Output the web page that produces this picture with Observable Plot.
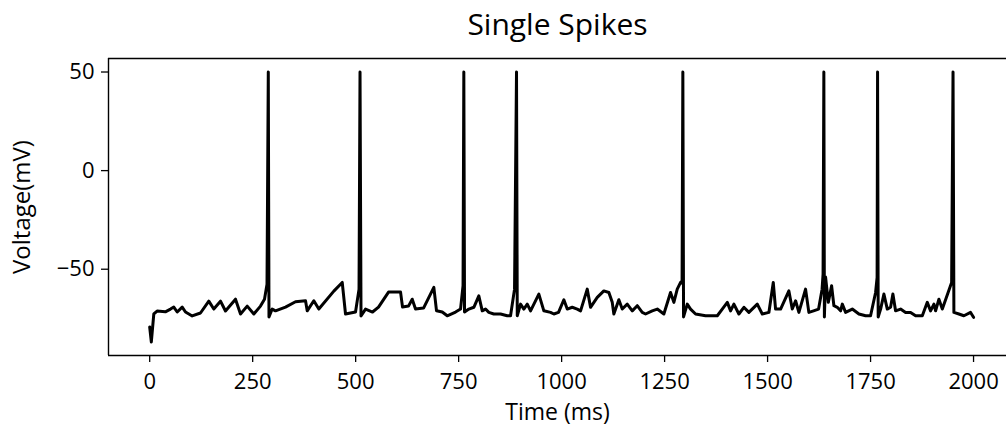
<!DOCTYPE html>
<html>
<head>
<meta charset="utf-8">
<script src="https://cdn.jsdelivr.net/npm/d3@7"></script>
<script src="https://cdn.jsdelivr.net/npm/@observablehq/plot@0.6"></script>
<style>
  html, body { margin: 0; padding: 0; background: #fff; }
  #chart { width: 1006px; height: 430px; }
</style>
</head>
<body>
<div id="chart"></div>
<script>
const title = "Single Spikes";
const xLabel = "Time (ms)";
const yLabel = "Voltage(mV)";
const xTicks = [0, 250, 500, 750, 1000, 1250, 1500, 1750, 2000];
const yTicks = [-50, 0, 50];
const xDomain = [-100, 2080];
const yDomain = [-93.75, 56.85];

// time (ms) samples
const time = [
  0, 4, 10, 18, 38, 50.5, 58.5, 66.8, 78.9, 86.9, 103.2, 123.3, 143.5, 155.6, 171.9, 184, 208.3, 220.5, 236.7, 252.8, 269, 278.7, 284.8, 287.9, 289.6, 297.4,
  305.4, 329.7, 354, 378.3, 382.4, 398.4, 410.6, 447, 467.4, 475.4, 499.7, 508.2, 510.6, 513, 524, 541, 555.5, 579.8, 609, 613.8,
  628.3, 637.3, 645.3, 664.8, 689.8, 696.3, 710.2, 722.3, 742.5, 754.6, 760.7, 762.6, 764.3, 774.8, 786.9, 799, 807.3, 815.3, 823.3, 835.4, 851.7, 868, 876, 885.7, 890.5, 892.3,
  900.3, 908.3, 916.6, 924.6, 944.7, 956.9, 973.1, 981.1, 992.5, 1005.4, 1013.7, 1025.8, 1037.9, 1046, 1062.2, 1070.2, 1086.5, 1102.5, 1114.7, 1122.9, 1126.8,
  1138.9, 1147.2, 1159.3, 1171.5, 1183.6, 1195.7, 1203.8, 1220, 1232.2, 1248.2, 1264.4, 1272.5, 1280.7, 1288.8, 1292.4, 1294.3, 1296,
  1305, 1313, 1325.2, 1349.5, 1377.9, 1390, 1402.2, 1410.2, 1418.2, 1430.3, 1442.5, 1454.6, 1475, 1487.1, 1503.2, 1513.8, 1519.4, 1531.6,
  1551.7, 1559.9, 1568, 1576, 1592.2, 1600.2, 1611.6, 1623.8, 1632.3, 1634.7, 1636.6, 1637.9, 1640.8, 1647.4, 1655.4, 1661, 1669.2, 1677.2,
  1681.4, 1689.4, 1705.6, 1721.7, 1737.9, 1750, 1762.2, 1765.9, 1767, 1768.5, 1774.4, 1782.4, 1790.6, 1798.6, 1804.2, 1810.7, 1822.9, 1835,
  1847.2, 1859.3, 1875.6, 1887.7, 1895.7, 1903.8, 1907.9, 1915.9, 1924.2, 1946.8, 1950.2, 1952.3, 1964.4, 1976.6, 1992.8, 2000
];

// membrane voltage (mV) at each sample
const voltage = [
  -79.3, -86.9, -72.7, -71.2, -71.6, -70.2, -69.2, -71.7, -69.2, -71.7, -73.7, -72.2, -66.2, -70.2, -66.2, -71.2, -65.2, -72.7, -68.7, -72.7, -68.7, -65.2, -57.6, 50, -74.2, -70.2,
  -71.1, -69.2, -66.5, -66.0, -71.1, -66.0, -70.2, -61.1, -56.7, -72.7, -71.7, -60.1, 50, -73.7, -70.2, -71.7, -69.2, -61.6, -61.6, -69.2,
  -68.7, -65.2, -70.2, -69.7, -59.2, -71.1, -71.7, -73.6, -71.7, -70.2, -58.4, 50, -71.7, -70.2, -69.3, -63.5, -71.1, -70.2, -71.9, -72.7, -72.7, -73.6, -73.6, -60.1, 50, -73.6,
  -67.7, -70.2, -67.7, -71.1, -62.6, -71.1, -71.9, -72.7, -71.9, -65.5, -70.2, -69.3, -70.2, -71.1, -60.1, -69.3, -64.3, -61.0, -61.8, -66.8, -72.7,
  -65.5, -70.2, -67.7, -71.1, -68.5, -71.9, -72.7, -71.1, -70.2, -72.7, -61.8, -66.8, -60.1, -56.7, -57.1, 50, -74.2,
  -67.7, -70.2, -72.7, -73.6, -73.6, -70.2, -66.8, -71.1, -67.7, -72.7, -69.3, -71.9, -67.7, -72.7, -71.9, -56.7, -70.2, -70.2,
  -61.0, -70.2, -66.0, -71.9, -60.1, -71.9, -71.1, -70.2, -60.1, -52.5, 50, -74.2, -54.0, -66.8, -58.4, -68.5, -69.3, -71.1,
  -67.7, -71.9, -70.2, -72.7, -73.6, -73.6, -61.8, -54.2, 50, -74.2, -70.2, -62.6, -70.2, -69.3, -62.6, -71.1, -70.2, -71.9,
  -71.9, -73.6, -73.6, -66.8, -71.1, -67.7, -71.1, -65.2, -70.2, -56.7, 50, -71.9, -72.7, -73.6, -71.9, -74.4
];

const font = "'Open Sans', 'DejaVu Sans', sans-serif";

const chart = Plot.plot({
  width: 1006,
  height: 430,
  marginTop: 58,
  marginBottom: 75,
  marginLeft: 108,
  marginRight: 0,
  style: { fontFamily: font, fontSize: "22px", color: "#000", background: "#fff", overflow: "visible" },
  x: { domain: xDomain },
  y: { domain: yDomain },
  marks: [
    Plot.axisX({ ticks: xTicks, tickFormat: d3.format("d"), tickSize: 7, tickPadding: 11, label: null, stroke: "#000", strokeWidth: 1.3, fontSize: 22 }),
    Plot.axisY({ ticks: yTicks, tickFormat: d3.format("d"), tickSize: 7, tickPadding: 7, label: null, stroke: "#000", strokeWidth: 1.3, fontSize: 22 }),
    Plot.ruleX([xDomain[0]], { stroke: "#000", strokeWidth: 1.4 }),
    Plot.ruleY(yDomain, { stroke: "#000", strokeWidth: 1.4 }),
    Plot.line(time, { x: time, y: voltage, stroke: "#000", strokeWidth: 3 }),
    Plot.text([title], { frameAnchor: "top", textAnchor: "middle", lineAnchor: "middle", dy: -33, fontSize: 30, fill: "#000", fontFamily: font }),
    Plot.text([xLabel], { frameAnchor: "bottom", textAnchor: "middle", lineAnchor: "middle", dy: 57, fontSize: 23, fill: "#000", fontFamily: font }),
    Plot.text([yLabel], { frameAnchor: "left", textAnchor: "middle", lineAnchor: "middle", dx: -86, rotate: -90, fontSize: 24, fill: "#000", fontFamily: font })
  ]
});
document.getElementById("chart").appendChild(chart);
</script>
</body>
</html>
